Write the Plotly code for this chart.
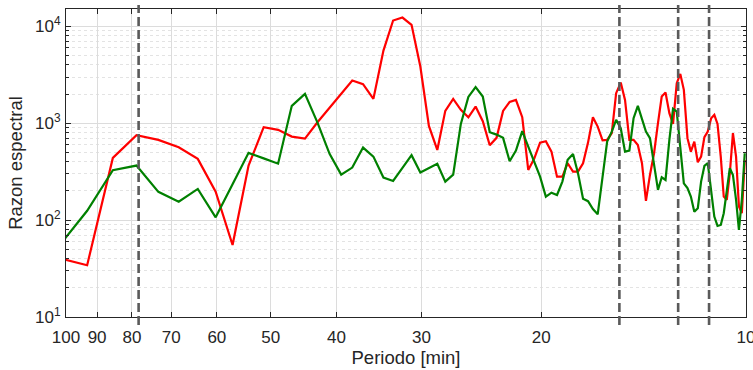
import plotly.graph_objects as go

# Periods [min]
periodos = [102.40, 93.09, 85.33, 78.77, 73.14, 68.27, 64.00, 60.24, 56.89, 53.89,
            51.20, 48.76, 46.55, 44.52, 42.67, 40.96, 39.38, 37.93, 36.57, 35.31,
            34.13, 33.03, 32.00, 31.03, 30.12, 29.26, 28.44, 27.68, 26.95, 26.26,
            25.60, 24.98, 24.38, 23.81, 23.27, 22.76, 22.26, 21.79, 21.33, 20.90,
            20.48, 20.08, 19.69, 19.32, 18.96, 18.62, 18.29, 17.96, 17.66, 17.36,
            17.07, 16.79, 16.52, 16.25, 16.00, 15.75, 15.52, 15.28, 15.06, 14.84,
            14.63, 14.42, 14.22, 14.03, 13.84, 13.65, 13.47, 13.30, 13.13, 12.96,
            12.80, 12.64, 12.49, 12.34, 12.19, 12.05, 11.91, 11.77, 11.64, 11.51,
            11.38, 11.25, 11.13, 11.01, 10.89, 10.78, 10.67, 10.56, 10.45, 10.34,
            10.24, 10.14, 10.04]

razon_roja = [40.5, 34.2, 439, 753, 674, 566, 429, 197, 55.4, 366,
              911, 855, 729, 695, 1024, 1450, 2027, 2761, 2534, 1787,
              5636, 11510, 12360, 10390, 3852, 940, 531, 1343, 1787, 1375,
              1151, 1488, 1051, 594, 707, 1343, 1664, 1745, 1156, 330,
              432, 632, 653, 510, 281, 281, 387, 317, 317, 387,
              632, 1156, 924, 666, 674, 790, 2046, 2633, 1745, 674,
              674, 598, 387, 158, 293, 491, 1002, 1887, 2076, 1272,
              986, 2596, 3238, 2213, 702, 510, 647, 396, 453, 719,
              821, 1129, 1221, 986, 453, 175, 162, 305, 790, 453,
              138, 118, 419]

razon_verde = [54.0, 125, 328, 366, 196, 155, 210, 107, 235, 495,
               434, 383, 1513, 2012, 1017, 483, 295, 349, 561, 453,
               275, 254, 346, 468, 310, 346, 381, 250, 295, 986,
               1874, 2360, 1887, 809, 764, 707, 406, 522, 829, 575,
               393, 281, 175, 192, 182, 250, 419, 483, 305, 166,
               157, 130, 115, 293, 647, 821, 1084, 890, 510, 522,
               1129, 1513, 1084, 821, 702, 387, 205, 277, 260, 674,
               1409, 1321, 575, 240, 214, 175, 122, 133, 250, 363,
               387, 205, 109, 87.1, 89.2, 118, 190, 344, 293, 162,
               79.2, 162, 491]

periodos_marcados = [78.2, 15.35, 12.58, 11.33]

x_ticks = [100, 90, 80, 70, 60, 50, 40, 30, 20, 10]
y_ticks = [10, 100, 1000, 10000]
y_ticktext = ["10<sup>1</sup>", "10<sup>2</sup>", "10<sup>3</sup>", "10<sup>4</sup>"]

axis_color = "#262626"
font = "Liberation Sans, Arial, sans-serif"

fig = go.Figure()
fig.add_trace(go.Scatter(x=periodos, y=razon_roja, mode="lines",
                         line=dict(color="#ff0000", width=2.2), showlegend=False))
fig.add_trace(go.Scatter(x=periodos, y=razon_verde, mode="lines",
                         line=dict(color="#008000", width=2.2), showlegend=False))

for p in periodos_marcados:
    fig.add_shape(type="line", xref="x", yref="paper", x0=p, x1=p, y0=-0.026, y1=1.013,
                  line=dict(color="#5a5a5a", width=2.6, dash="9px,4px"), layer="above")

minor_vals = [m * 10 ** e for e in range(1, 5) for m in range(2, 10)]

fig.update_xaxes(type="log", range=[2, 0.9999], tickmode="array", tickvals=x_ticks,
                 ticktext=[str(v) for v in x_ticks], automargin=False,
                 ticklabeloverflow="allow",
                 showline=True, linecolor=axis_color, linewidth=1, mirror="ticks",
                 ticks="inside", ticklen=5, tickcolor=axis_color,
                 showgrid=True, gridcolor="#dcdcdc", gridwidth=1, zeroline=False,
                 tickfont=dict(family=font, size=17, color=axis_color),
                 ticklabelstandoff=5,
                 title=dict(text="Periodo [min]", font=dict(family=font, size=18.5, color=axis_color),
                            standoff=4))
fig.update_yaxes(type="log", range=[1, 4.18], tickmode="array", tickvals=y_ticks,
                 ticktext=y_ticktext, automargin=False,
                 ticklabeloverflow="allow",
                 showline=True, linecolor=axis_color, linewidth=1, mirror="ticks",
                 ticks="inside", ticklen=5, tickcolor=axis_color,
                 showgrid=True, gridcolor="#dcdcdc", gridwidth=1, zeroline=False,
                 tickfont=dict(family=font, size=17, color=axis_color),
                 ticklabelstandoff=1,
                 minor=dict(tickmode="array", tickvals=minor_vals, ticks="inside", ticklen=3,
                            tickcolor=axis_color, showgrid=True, gridcolor="#e3e3e3",
                            griddash="dot", gridwidth=1),
                 title=dict(text="Razon espectral", font=dict(family=font, size=18.5, color=axis_color),
                            standoff=7))

fig.update_layout(width=753, height=370, margin=dict(l=66, r=7, t=9, b=53),
                  paper_bgcolor="white", plot_bgcolor="white",
                  font=dict(family=font, color=axis_color))

fig.write_html("out.html", config={"displayModeBar": False},
               post_script="document.body.style.margin='0px';")
